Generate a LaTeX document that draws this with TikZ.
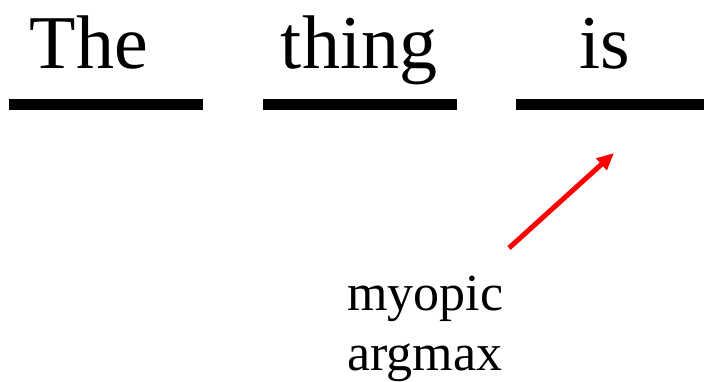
\documentclass[tikz,border=0pt]{standalone}
\usepackage{fontspec}
\setmainfont{Liberation Serif}
\usepackage{tikz}
\usetikzlibrary{arrows.meta, positioning}

\begin{document}
\begin{tikzpicture}[x=1pt, y=-1pt,
    word/.style={anchor=base, inner sep=0pt, font=\fontsize{76}{80}\selectfont},
    slot/.style={fill=black, inner sep=0pt, minimum height=11pt, minimum width=194pt},
    note/.style={anchor=base west, inner sep=0pt, align=left, font=\fontsize{52}{60}\selectfont}]
  \useasboundingbox (0,0) rectangle (704,381);
  \node[slot] (slot1) at (106,104) {};
  \node[slot] (slot2) at (360,104) {};
  \node[slot, minimum width=188pt] (slot3) at (610,104) {};
  \node[word] (the) at (89,68) {The};
  \node[word] (thing) at (359,68) {thing};
  \node[word] (is) at (605,68) {is};
  \node[note] (argmax) at (347,370) {myopic\\argmax};
  \coordinate (tail) at (509,248);
  \coordinate (tip) at (614,153);
  \draw[-{Triangle[length=17pt, width=15pt]}, red, line width=5pt] (tail) -- (tip);
\end{tikzpicture}
\end{document}
